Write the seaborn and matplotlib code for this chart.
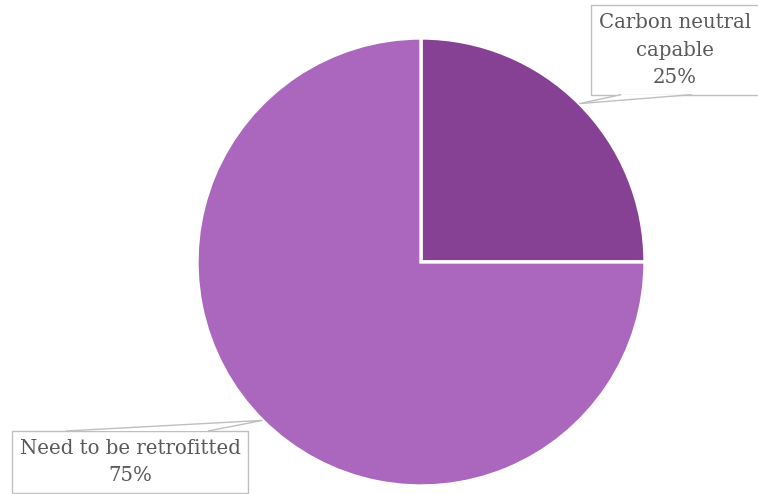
import matplotlib
matplotlib.use("Agg")
import matplotlib.pyplot as plt
from matplotlib.patches import Polygon
import seaborn as sns
import numpy as np

categories = ["Carbon neutral\ncapable", "Need to be retrofitted"]
shares = [25, 75]
colors = ["#864194", "#AB66BD"]

sns.set_theme(style="white")
plt.rcParams["font.family"] = ["DejaVu Serif"]

fig = plt.figure(figsize=(7.58, 4.94), dpi=100)
ax = fig.add_axes([0, 0, 1, 1])

cx, cy, r = 421, 232, 224
wedges, _ = ax.pie(shares, colors=colors, startangle=90, counterclock=False,
                   center=(cx, cy), radius=r,
                   wedgeprops=dict(edgecolor="white", linewidth=2.4))
ax.set_xlim(0, 758)
ax.set_ylim(0, 494)
ax.set_aspect("equal")
ax.axis("off")

box = dict(boxstyle="square,pad=0.4", fc="white", ec="#BFBFBF", lw=1.0)

label_pos = [(675, 444), (130, 32)]
# which edge of the label box carries the pointer, and the span along it
pointer_edge = ["bottom", "top"]
pointer_span = [(0.18, 0.6), (0.23, 0.83)]

labels = []
for cat, val, pos in zip(categories, shares, label_pos):
    labels.append(ax.text(pos[0], pos[1], f"{cat}\n{val}%", ha="center", va="center",
                          fontsize=14.2, color="#595959", linespacing=1.55,
                          bbox=box, zorder=3))

fig.canvas.draw()
inv = ax.transData.inverted()
for w, t, edge, (f0, f1) in zip(wedges, labels, pointer_edge, pointer_span):
    ang = np.deg2rad((w.theta1 + w.theta2) / 2)
    tip = (cx + r * np.cos(ang), cy + r * np.sin(ang))
    ext = t.get_bbox_patch().get_window_extent()
    (x0, y0), (x1, y1) = inv.transform([(ext.x0, ext.y0), (ext.x1, ext.y1)])
    ye = y0 if edge == "bottom" else y1
    pts = [(x0 + f0 * (x1 - x0), ye), tip, (x0 + f1 * (x1 - x0), ye)]
    ax.add_patch(Polygon(pts, closed=False, fc="white", ec="#BFBFBF",
                         lw=1.0, zorder=4))

fig.savefig("out.png", dpi=100)
